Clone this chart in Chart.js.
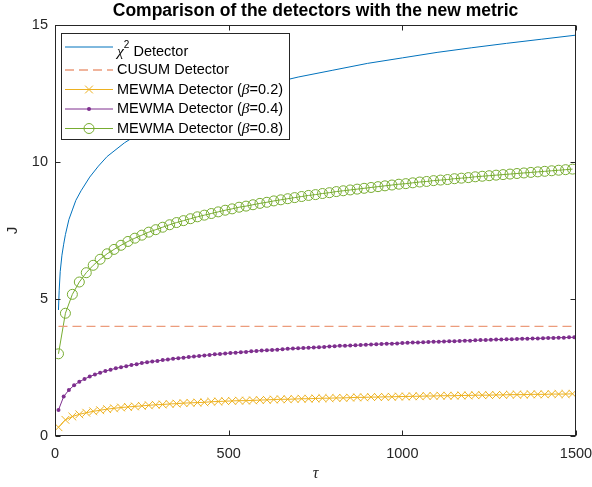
<!DOCTYPE html>
<html>
<head>
<meta charset="utf-8">
<script src="https://cdn.jsdelivr.net/npm/chart.js@4.4.0/dist/chart.umd.min.js"></script>
<style>
  body { margin: 0; background: #fff; }
  canvas { display: block; }
</style>
</head>
<body>
<canvas id="chart" width="592" height="487"></canvas>
<script>
// Datos
const tauChi = [10, 12, 15, 20, 25, 30, 40, 50, 60, 75, 100, 125, 150, 200, 250, 300, 350, 400,
    500, 600, 700, 800, 900, 1000, 1100, 1200, 1300, 1400, 1500];
const chiVals = [4.6, 5.3, 6.0, 6.6, 7.0, 7.35, 7.9, 8.25, 8.6, 8.95, 9.45, 9.85, 10.2, 10.7, 11.1, 11.45, 11.75, 12.0,
    12.45, 12.8, 13.1, 13.35, 13.6, 13.8, 14.0, 14.17, 14.33, 14.48, 14.63];

const tauCusum = [10, 1500];
const cusumVals = [4.0, 4.0];

// Eje tau para beta=0.2 y beta=0.8
const tau20 = [10, 30, 50, 70, 90, 110, 130, 150, 170, 190, 210, 230, 250, 270, 290, 310, 330, 350, 370, 390,
    410, 430, 450, 470, 490, 510, 530, 550, 570, 590, 610, 630, 650, 670, 690, 710, 730, 750, 770, 790,
    810, 830, 850, 870, 890, 910, 930, 950, 970, 990, 1010, 1030, 1050, 1070, 1090, 1110, 1130, 1150, 1170, 1190,
    1210, 1230, 1250, 1270, 1290, 1310, 1330, 1350, 1370, 1390, 1410, 1430, 1450, 1470, 1490];
// Eje tau para beta=0.4
const tau15 = [10, 25, 40, 55, 70, 85, 100, 115, 130, 145, 160, 175, 190, 205, 220, 235, 250, 265, 280, 295,
    310, 325, 340, 355, 370, 385, 400, 415, 430, 445, 460, 475, 490, 505, 520, 535, 550, 565, 580, 595,
    610, 625, 640, 655, 670, 685, 700, 715, 730, 745, 760, 775, 790, 805, 820, 835, 850, 865, 880, 895,
    910, 925, 940, 955, 970, 985, 1000, 1015, 1030, 1045, 1060, 1075, 1090, 1105, 1120, 1135, 1150, 1165, 1180, 1195,
    1210, 1225, 1240, 1255, 1270, 1285, 1300, 1315, 1330, 1345, 1360, 1375, 1390, 1405, 1420, 1435, 1450, 1465, 1480, 1495];

const beta02Vals = [0.32, 0.59, 0.71, 0.79, 0.85, 0.90, 0.94, 0.98, 1.01, 1.04,
    1.06, 1.08, 1.10, 1.12, 1.14, 1.15, 1.17, 1.18, 1.20, 1.21,
    1.22, 1.23, 1.25, 1.26, 1.27, 1.28, 1.29, 1.29, 1.30, 1.31,
    1.32, 1.33, 1.34, 1.34, 1.35, 1.36, 1.36, 1.37, 1.38, 1.38,
    1.39, 1.39, 1.40, 1.41, 1.41, 1.42, 1.42, 1.43, 1.43, 1.44,
    1.44, 1.45, 1.45, 1.46, 1.46, 1.47, 1.47, 1.47, 1.48, 1.48,
    1.49, 1.49, 1.49, 1.50, 1.50, 1.51, 1.51, 1.51, 1.52, 1.52,
    1.52, 1.53, 1.53, 1.53, 1.54];

const beta04Vals = [0.95, 1.44, 1.68, 1.85, 1.98, 2.08, 2.17, 2.24, 2.31, 2.37,
    2.42, 2.47, 2.51, 2.55, 2.59, 2.62, 2.66, 2.69, 2.72, 2.74,
    2.77, 2.79, 2.82, 2.84, 2.86, 2.88, 2.90, 2.92, 2.94, 2.96,
    2.98, 2.99, 3.01, 3.03, 3.04, 3.06, 3.07, 3.09, 3.10, 3.12,
    3.13, 3.14, 3.15, 3.17, 3.18, 3.19, 3.20, 3.21, 3.22, 3.23,
    3.24, 3.25, 3.27, 3.28, 3.29, 3.29, 3.30, 3.31, 3.32, 3.33,
    3.34, 3.35, 3.36, 3.37, 3.37, 3.38, 3.39, 3.40, 3.41, 3.41,
    3.42, 3.43, 3.44, 3.44, 3.45, 3.46, 3.46, 3.47, 3.48, 3.48,
    3.49, 3.50, 3.50, 3.51, 3.52, 3.52, 3.53, 3.53, 3.54, 3.55,
    3.55, 3.56, 3.56, 3.57, 3.58, 3.58, 3.59, 3.59, 3.60, 3.60];

const beta08Vals = [3.00, 4.48, 5.17, 5.62, 5.96, 6.23, 6.45, 6.65, 6.81, 6.96,
    7.10, 7.22, 7.33, 7.44, 7.53, 7.62, 7.71, 7.79, 7.86, 7.93,
    8.00, 8.06, 8.12, 8.18, 8.24, 8.29, 8.35, 8.39, 8.44, 8.49,
    8.53, 8.58, 8.62, 8.66, 8.70, 8.74, 8.78, 8.81, 8.85, 8.88,
    8.92, 8.95, 8.98, 9.01, 9.04, 9.07, 9.10, 9.13, 9.16, 9.19,
    9.21, 9.24, 9.27, 9.29, 9.32, 9.34, 9.36, 9.39, 9.41, 9.43,
    9.46, 9.48, 9.50, 9.52, 9.54, 9.56, 9.58, 9.60, 9.62, 9.64,
    9.66, 9.68, 9.70, 9.72, 9.74];

const xTicks = [0, 500, 1000, 1500];
const yTicks = [0, 5, 10, 15];

// Colores estilo MATLAB
const BLUE = '#0072BD';
const ORANGE = '#EC9C7C';
const YELLOW = '#EDB120';
const PURPLE = '#7E2F8E';
const GREEN = '#77AC30';
const AXIS = '#262626';
const SANS = '"Liberation Sans", Arial, sans-serif';
const SERIF = '"Liberation Serif", "Times New Roman", serif';

function pares(xs, ys) {
    return xs.map(function (v, i) { return {x: v, y: ys[i]}; });
}

// Caja de ejes con marcas hacia adentro
const cajaEjes = {
    id: 'cajaEjes',
    afterDatasetsDraw(chart) {
        const {ctx, chartArea: a, scales} = chart;
        const L = Math.round(a.left) + 0.5, R = Math.round(a.right) - 0.5;
        const T = Math.round(a.top) + 0.5, B = Math.round(a.bottom) - 0.5;
        ctx.save();
        ctx.strokeStyle = AXIS;
        ctx.lineWidth = 1;
        ctx.strokeRect(L, T, R - L, B - T);
        ctx.beginPath();
        xTicks.forEach(function (v) {
            const px = Math.round(scales.x.getPixelForValue(v)) + 0.5;
            ctx.moveTo(px, B); ctx.lineTo(px, B - 5);
            ctx.moveTo(px, T); ctx.lineTo(px, T + 5);
        });
        yTicks.forEach(function (v) {
            const py = Math.round(scales.y.getPixelForValue(v)) + 0.5;
            ctx.moveTo(L, py); ctx.lineTo(L + 5, py);
            ctx.moveTo(R, py); ctx.lineTo(R - 5, py);
        });
        ctx.stroke();
        ctx.restore();
    }
};

// Leyenda dibujada dentro del area del grafico
const leyenda = {
    id: 'leyenda',
    afterDraw(chart) {
        const ctx = chart.ctx;
        const box = {l: 61.5, t: 33.5, r: 289.5, b: 139.5};
        const normal = '14.5px ' + SANS;
        const griega = 'italic 15.5px ' + SERIF;
        const filas = [
            {ds: 0, y: 47, ty: 52, parts: [['χ', griega, 0], ['2', '10px ' + SANS, -7], [' Detector', normal, 0]]},
            {ds: 1, y: 70, ty: 70, parts: [['CUSUM Detector', normal, 0]]},
            {ds: 2, y: 89.5, ty: 89.5, parts: [['MEWMA Detector (', normal, 0], ['β', griega, 0], ['=0.2)', normal, 0]]},
            {ds: 3, y: 109, ty: 109, parts: [['MEWMA Detector (', normal, 0], ['β', griega, 0], ['=0.4)', normal, 0]]},
            {ds: 4, y: 128.5, ty: 128.5, parts: [['MEWMA Detector (', normal, 0], ['β', griega, 0], ['=0.8)', normal, 0]]}
        ];
        ctx.save();
        ctx.fillStyle = '#fff';
        ctx.fillRect(box.l, box.t, box.r - box.l, box.b - box.t);
        ctx.strokeStyle = AXIS;
        ctx.lineWidth = 1;
        ctx.strokeRect(box.l, box.t, box.r - box.l, box.b - box.t);

        filas.forEach(function (f) {
            const ds = chart.data.datasets[f.ds];
            ctx.strokeStyle = ds.borderColor;
            ctx.lineWidth = ds.borderWidth;
            ctx.setLineDash(ds.borderDash || []);
            ctx.beginPath();
            ctx.moveTo(65, f.y);
            ctx.lineTo(113, f.y);
            ctx.stroke();
            ctx.setLineDash([]);
            if (ds.pointRadius > 0) {
                ctx.lineWidth = 1;
                ctx.strokeStyle = ds.borderColor;
                ctx.fillStyle = ds.pointBackgroundColor;
                ctx.beginPath();
                if (ds.pointStyle === 'circle') {
                    ctx.arc(89, f.y, ds.pointRadius, 0, Math.PI * 2);
                    ctx.fill();
                    if (ds.pointBorderWidth > 0) ctx.stroke();
                } else {
                    const r = ds.pointRadius * Math.SQRT1_2;
                    ctx.moveTo(89 - r, f.y - r); ctx.lineTo(89 + r, f.y + r);
                    ctx.moveTo(89 + r, f.y - r); ctx.lineTo(89 - r, f.y + r);
                    ctx.stroke();
                }
            }
            let x = 117;
            ctx.fillStyle = '#000';
            ctx.textBaseline = 'middle';
            ctx.textAlign = 'left';
            f.parts.forEach(function (p) {
                ctx.font = p[1];
                ctx.fillText(p[0], x, f.ty + p[2]);
                x += ctx.measureText(p[0]).width;
            });
        });
        ctx.restore();
    }
};

const ctx = document.getElementById('chart').getContext('2d');
const chart = new Chart(ctx, {
    type: 'line',
    data: {
        datasets: [{
            label: 'χ2 Detector',
            data: pares(tauChi, chiVals),
            borderColor: BLUE,
            borderWidth: 1,
            pointRadius: 0,
            tension: 0
        }, {
            label: 'CUSUM Detector',
            data: pares(tauCusum, cusumVals),
            borderColor: ORANGE,
            borderWidth: 1.3,
            borderDash: [9, 5],
            pointRadius: 0
        }, {
            label: 'MEWMA Detector (β=0.2)',
            data: pares(tau20, beta02Vals),
            borderColor: YELLOW,
            borderWidth: 1,
            pointStyle: 'crossRot',
            pointRadius: 5.5,
            pointBorderWidth: 1,
            pointBorderColor: YELLOW,
            pointBackgroundColor: 'rgba(0,0,0,0)'
        }, {
            label: 'MEWMA Detector (β=0.4)',
            data: pares(tau15, beta04Vals),
            borderColor: PURPLE,
            borderWidth: 1,
            pointStyle: 'circle',
            pointRadius: 2,
            pointBorderWidth: 0,
            pointBorderColor: PURPLE,
            pointBackgroundColor: PURPLE
        }, {
            label: 'MEWMA Detector (β=0.8)',
            data: pares(tau20, beta08Vals),
            borderColor: GREEN,
            borderWidth: 1,
            pointStyle: 'circle',
            pointRadius: 5,
            pointBorderWidth: 1,
            pointBorderColor: GREEN,
            pointBackgroundColor: 'rgba(0,0,0,0)'
        }]
    },
    options: {
        responsive: false,
        animation: false,
        devicePixelRatio: 1,
        layout: {padding: {left: 0, right: 16, top: 0, bottom: 0}},
        plugins: {
            legend: {display: false},
            tooltip: {enabled: false},
            title: {
                display: true,
                fullSize: false,
                text: 'Comparison of the detectors with the new metric',
                color: '#000',
                font: {family: SANS, size: 17.5, weight: 'bold'},
                padding: {top: 1, bottom: 3}
            }
        },
        scales: {
            x: {
                type: 'linear',
                min: 0,
                max: 1500,
                grid: {display: false, drawTicks: false},
                border: {display: false},
                afterBuildTicks: function (axis) { axis.ticks = xTicks.map(function (v) { return {value: v}; }); },
                afterFit: function (axis) {
                    axis.height = 51;
                    axis.paddingLeft = 0;
                    axis.paddingRight = 0;
                },
                ticks: {
                    color: AXIS, font: {family: SANS, size: 14.5}, padding: 9, maxRotation: 0,
                    callback: function (v) { return String(v); }
                },
                title: {display: true, text: 'τ', color: AXIS, font: {family: SERIF, size: 16, style: 'italic'}, padding: {top: 0, bottom: 4}}
            },
            y: {
                min: 0,
                max: 15,
                grid: {display: false, drawTicks: false},
                border: {display: false},
                afterBuildTicks: function (axis) { axis.ticks = yTicks.map(function (v) { return {value: v}; }); },
                afterFit: function (axis) { axis.width = 55; },
                ticks: {
                    color: AXIS, font: {family: SANS, size: 14.5}, padding: 7,
                    callback: function (v) { return String(v); }
                },
                title: {display: true, text: 'J', color: AXIS, font: {family: SANS, size: 15}, padding: {top: 4, bottom: 0}}
            }
        }
    },
    plugins: [cajaEjes, leyenda]
});
</script>
</body>
</html>
